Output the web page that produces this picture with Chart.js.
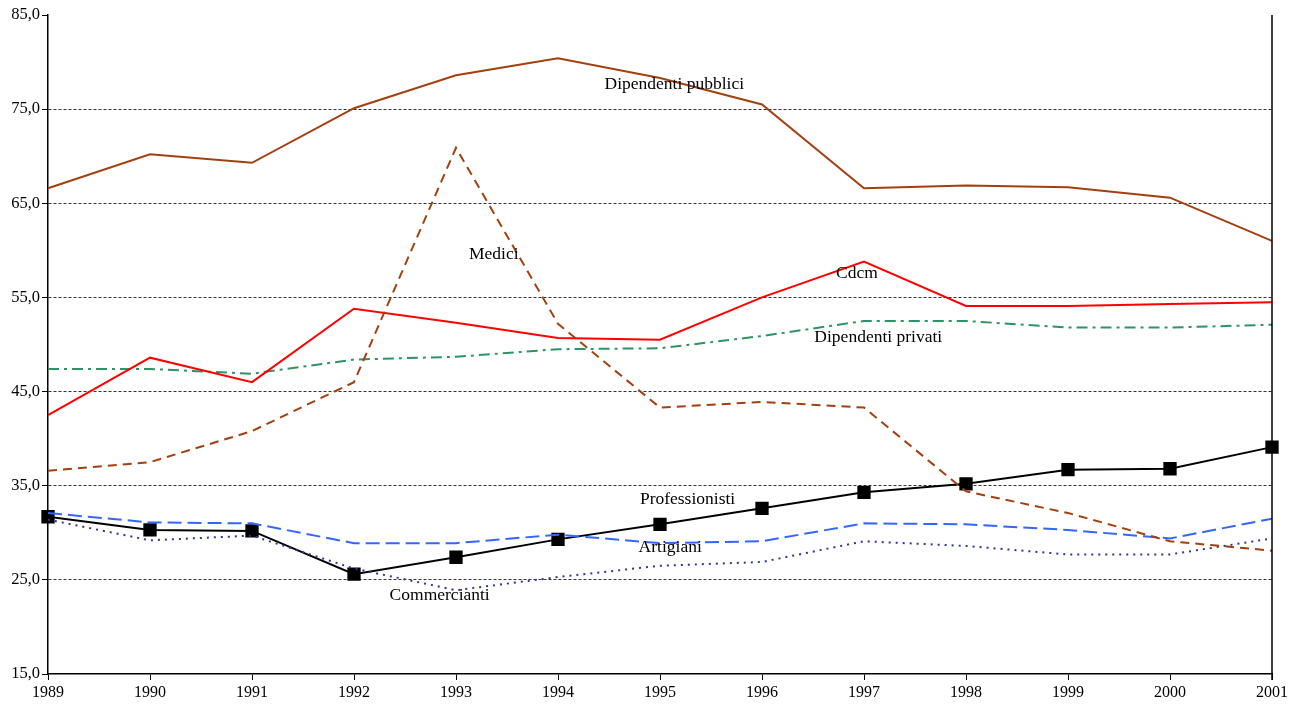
<!DOCTYPE html>
<html>
<head>
<meta charset="utf-8">
<script src="https://cdn.jsdelivr.net/npm/chart.js@4"></script>
<style>
  html, body { margin: 0; padding: 0; background: #fff; }
  #wrap { width: 1303px; height: 709px; }
</style>
</head>
<body>
<div id="wrap"><canvas id="lineChart" width="1303" height="709"></canvas></div>
<script>
'use strict';

// categories (years)
const years = ['1989', '1990', '1991', '1992', '1993', '1994', '1995', '1996', '1997', '1998', '1999', '2000', '2001'];

// series values
const dipPubblici = [66.6, 70.2, 69.3, 75.1, 78.6, 80.4, 78.3, 75.5, 66.6, 66.9, 66.7, 65.6, 61.0];
const medici      = [36.6, 37.5, 40.8, 46.0, 70.9, 52.2, 43.3, 43.9, 43.3, 34.4, 32.1, 29.1, 28.1];
const cdcm        = [42.5, 48.6, 46.0, 53.8, 52.3, 50.7, 50.5, 55.0, 58.8, 54.1, 54.1, 54.3, 54.5];
const dipPrivati  = [47.4, 47.4, 46.9, 48.4, 48.7, 49.5, 49.6, 50.9, 52.5, 52.5, 51.8, 51.8, 52.1];
const professionisti = [31.7, 30.3, 30.2, 25.6, 27.4, 29.3, 30.9, 32.6, 34.3, 35.2, 36.7, 36.8, 39.1];
const artigiani   = [32.1, 31.1, 31.0, 28.9, 28.9, 29.8, 28.9, 29.1, 31.0, 30.9, 30.3, 29.4, 31.5];
const commercianti = [31.4, 29.2, 29.7, 26.2, 23.9, 25.3, 26.5, 26.9, 29.1, 28.6, 27.7, 27.7, 29.4];

// y axis range / ticks
const yTicks = [15, 25, 35, 45, 55, 65, 75, 85];

// in-chart series labels: [text, x (year), y (value)]
const seriesLabels = [
    ['Dipendenti pubblici', 1995.14, 77.6],
    ['Medici', 1993.37, 59.6],
    ['Cdcm', 1996.93, 57.5],
    ['Dipendenti privati', 1997.14, 50.8],
    ['Professionisti', 1995.27, 33.5],
    ['Artigiani', 1995.1, 28.5],
    ['Commercianti', 1992.84, 23.4]
];

const FONT = '"Liberation Serif", "Times New Roman", serif';

// draws the labels inside the plot and the right frame line
const annotate = {
    id: 'annotate',
    afterDatasetsDraw(chart) {
        const ctx = chart.ctx;
        const xs = chart.scales.x;
        const ys = chart.scales.y;
        const area = chart.chartArea;
        ctx.save();
        ctx.strokeStyle = '#000';
        ctx.lineWidth = 1.5;
        ctx.beginPath();
        ctx.moveTo(area.right, area.top);
        ctx.lineTo(area.right, area.bottom + 6);
        ctx.stroke();

        ctx.fillStyle = '#000';
        ctx.font = '17.5px ' + FONT;
        ctx.textAlign = 'center';
        ctx.textBaseline = 'middle';
        seriesLabels.forEach(function (l) {
            const idx = l[1] - 1989;
            const px = xs.getPixelForValue(0) + (xs.getPixelForValue(1) - xs.getPixelForValue(0)) * idx;
            ctx.fillText(l[0], px, ys.getPixelForValue(l[2]));
        });
        ctx.restore();
    }
};

function ds(label, data, color, dash, extra) {
    return Object.assign({
        label: label,
        data: data,
        borderColor: color,
        backgroundColor: color,
        borderWidth: 2,
        borderDash: dash,
        pointRadius: 0,
        tension: 0,
        fill: false
    }, extra || {});
}

const canvas = document.getElementById('lineChart');
new Chart(canvas.getContext('2d'), {
    type: 'line',
    data: {
        labels: years,
        datasets: [
            ds('Dipendenti pubblici', dipPubblici, '#A3400F', []),
            ds('Medici', medici, '#A3400F', [9, 6]),
            ds('Cdcm', cdcm, '#FF0000', []),
            ds('Dipendenti privati', dipPrivati, '#2E9464', [11, 5, 3, 5]),
            ds('Artigiani', artigiani, '#3366FF', [14, 6]),
            ds('Commercianti', commercianti, '#333399', [2, 5]),
            ds('Professionisti', professionisti, '#000000', [], {
                pointStyle: 'rect',
                pointRadius: 8,
                pointBackgroundColor: '#000',
                pointBorderColor: '#000'
            })
        ]
    },
    options: {
        responsive: false,
        animation: false,
        layout: { padding: { top: 15, right: 31, left: 0, bottom: 0 } },
        plugins: {
            legend: { display: false },
            tooltip: { enabled: false }
        },
        scales: {
            x: {
                offset: false,
                afterFit: function (scale) { scale.height = 35; },
                grid: {
                    drawOnChartArea: false,
                    drawTicks: true,
                    tickLength: 6,
                    tickColor: '#000'
                },
                border: { display: true, color: '#000', width: 1.5 },
                ticks: {
                    color: '#000',
                    font: { family: FONT, size: 16 },
                    padding: 3,
                    maxRotation: 0
                }
            },
            y: {
                min: 15,
                max: 85,
                afterFit: function (scale) { scale.width = 48; },
                afterBuildTicks: function (scale) {
                    scale.ticks = yTicks.map(v => ({ value: v }));
                },
                grid: {
                    color: function (c) {
                        const v = c.tick && c.tick.value;
                        return (v === 15 || v === 85) ? 'rgba(0,0,0,0)' : '#333';
                    },
                    lineWidth: 1,
                    tickColor: '#000',
                    tickLength: 6,
                    tickBorderDash: []
                },
                border: { display: true, color: '#000', width: 1.5, dash: [3, 2] },
                ticks: {
                    color: '#000',
                    font: { family: FONT, size: 16.5 },
                    padding: 2,
                    callback: function (value) {
                        return Number(value).toFixed(1).replace('.', ',');
                    }
                }
            }
        }
    },
    plugins: [annotate]
});
</script>
</body>
</html>
